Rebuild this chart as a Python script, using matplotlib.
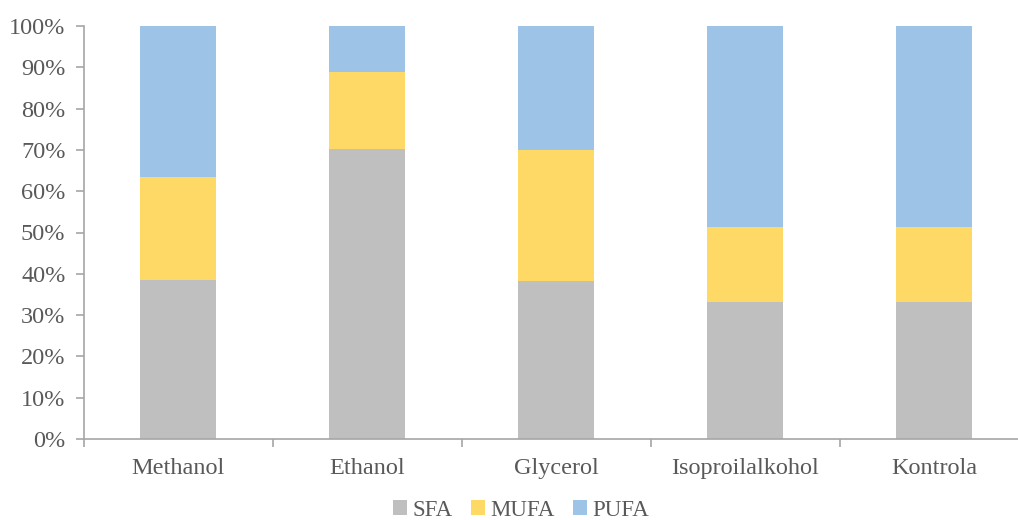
import numpy as np
import matplotlib.pyplot as plt

categories = ["Methanol", "Ethanol", "Glycerol", "Isoproilalkohol", "Kontrola"]
sfa = [38.5, 70.2, 38.3, 33.2, 33.2]
mufa = [24.9, 18.7, 31.7, 18.1, 18.1]
pufa = [36.6, 11.1, 30.0, 48.7, 48.7]

colors = {"SFA": "#BFBFBF", "MUFA": "#FFD966", "PUFA": "#9DC3E6"}
text_color = "#595959"

plt.rcParams["font.family"] = ["Liberation Serif", "DejaVu Serif"]

fig = plt.figure(figsize=(10.18, 5.2), dpi=100)
ax = fig.add_axes([83.5 / 1018, 81 / 520, 945 / 1018, 413 / 520])

x = np.arange(len(categories))
bottom = np.zeros(len(categories))
for name, vals in [("SFA", sfa), ("MUFA", mufa), ("PUFA", pufa)]:
    ax.bar(x, vals, width=0.4, bottom=bottom, color=colors[name], label=name)
    bottom += np.array(vals)

ax.set_xlim(-0.5, len(categories) - 0.5)
ax.set_ylim(0, 100)
ax.set_yticks(np.arange(0, 101, 10))
ax.set_yticklabels([f"{v}%" for v in range(0, 101, 10)])

ax.set_xticks(x)
ax.set_xticklabels(categories)
ax.set_xticks(np.arange(-0.5, len(categories), 1), minor=True)
ax.tick_params(axis="x", which="major", length=0, pad=14)
ax.tick_params(axis="x", which="minor", length=6, color="#A6A6A6", width=1.2)
ax.tick_params(axis="y", length=6, color="#A6A6A6", width=1.2, pad=7)
ax.tick_params(labelsize=17.5, labelcolor=text_color)

for s in ["top", "right"]:
    ax.spines[s].set_visible(False)
for s in ["left", "bottom"]:
    ax.spines[s].set_color("#A6A6A6")
    ax.spines[s].set_linewidth(1.2)

leg = fig.legend(loc="center", bbox_to_anchor=(521 / 1018, 1 - 510 / 520), ncol=3,
                 frameon=False, fontsize=16.5, handlelength=0.6, handleheight=0.6,
                 handletextpad=0.25, columnspacing=0.8)
for t in leg.get_texts():
    t.set_color(text_color)

fig.savefig("out.png", dpi=100)
